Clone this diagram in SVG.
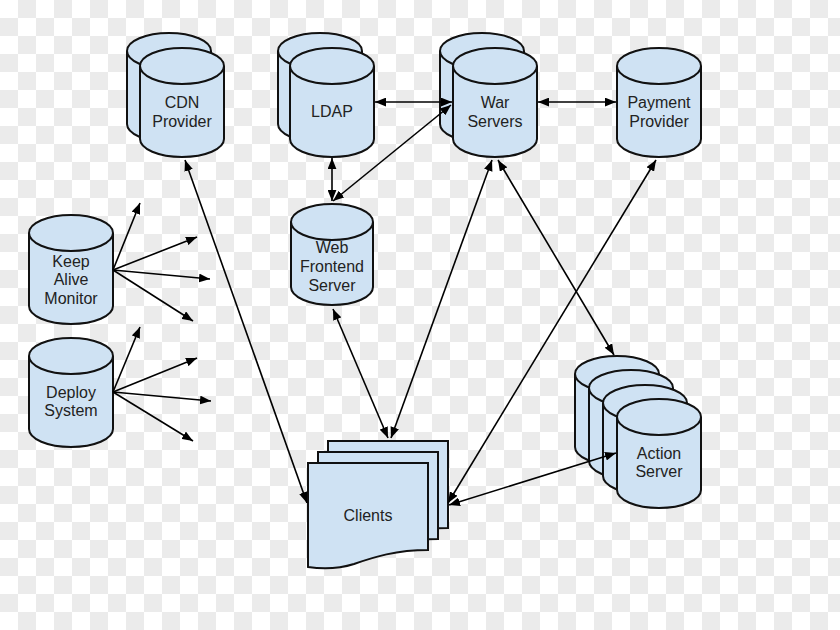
<svg xmlns="http://www.w3.org/2000/svg" xmlns:xlink="http://www.w3.org/1999/xlink" width="840" height="630" viewBox="0 0 840 630">
<style>
.cyl{fill:#cfe2f3;stroke:#111;stroke-width:2}
.cap{fill:none;stroke:#111;stroke-width:2}
.doc{fill:#cfe2f3;stroke:#111;stroke-width:2;stroke-linejoin:miter}
.lbl{font-family:"Liberation Sans",Arial,sans-serif;font-size:16px;fill:#222;text-anchor:middle}
.con{stroke:#000;stroke-width:1.6;fill:none;marker-end:url(#ah)}
.bi{marker-start:url(#ah)}
</style>
<defs>
<pattern id="chk" x="0" y="0" width="36" height="36" patternUnits="userSpaceOnUse">
<rect width="36" height="36" fill="#ffffff"/>
<rect x="18" y="0" width="18" height="18" fill="#ebebeb"/>
<rect x="0" y="18" width="18" height="18" fill="#ebebeb"/>
</pattern>
<marker id="ah" viewBox="0 0 10 8" refX="10" refY="4" markerWidth="11" markerHeight="9" markerUnits="userSpaceOnUse" orient="auto-start-reverse">
<path d="M0,0 L10,4 L0,8 Z" fill="#000"/>
</marker>
<g id="cy">
<path class="cyl" d="M0,18 A42,18 0 0 1 84,18 V91 A42,18 0 0 1 0,91 Z"/>
<path class="cap" d="M0,18 A42,18 0 0 0 84,18"/>
</g>
<path id="page" class="doc" d="M0,0 H120 V87 C88,87 66,94 46,101 C30,106 14,106 0,104 Z"/>
</defs>
<rect width="840" height="630" fill="url(#chk)"/>

<g id="cdn-provider">
<use xlink:href="#cy" x="127" y="33"/>
<use xlink:href="#cy" x="140" y="48"/>
<text class="lbl" x="182" y="108">CDN</text>
<text class="lbl" x="182" y="127">Provider</text>
</g>
<g id="ldap">
<use xlink:href="#cy" x="278" y="33"/>
<use xlink:href="#cy" x="290" y="48"/>
<text class="lbl" x="332" y="117">LDAP</text>
</g>
<g id="war-servers">
<use xlink:href="#cy" x="440" y="33"/>
<use xlink:href="#cy" x="453" y="48"/>
<text class="lbl" x="495" y="108">War</text>
<text class="lbl" x="495" y="127">Servers</text>
</g>
<g id="payment-provider">
<use xlink:href="#cy" x="617" y="48"/>
<text class="lbl" x="659" y="108">Payment</text>
<text class="lbl" x="659" y="127">Provider</text>
</g>
<g id="keep-alive-monitor">
<use xlink:href="#cy" x="29" y="215"/>
<text class="lbl" x="71" y="267">Keep</text>
<text class="lbl" x="71" y="285">Alive</text>
<text class="lbl" x="71" y="304">Monitor</text>
</g>
<g id="deploy-system">
<use xlink:href="#cy" x="29" y="338"/>
<text class="lbl" x="71" y="398">Deploy</text>
<text class="lbl" x="71" y="416">System</text>
</g>
<g id="web-frontend-server">
<path class="cyl" d="M291,222 A41,18 0 0 1 373,222 V287 A41,18 0 0 1 291,287 Z"/>
<path class="cap" d="M291,222 A41,18 0 0 0 373,222"/>
<text class="lbl" x="332" y="253">Web</text>
<text class="lbl" x="332" y="272">Frontend</text>
<text class="lbl" x="332" y="291">Server</text>
</g>
<g id="clients">
<use xlink:href="#page" x="328" y="441"/>
<use xlink:href="#page" x="318" y="452"/>
<use xlink:href="#page" x="308" y="463"/>
<text class="lbl" x="368" y="521">Clients</text>
</g>
<g id="action-server">
<use xlink:href="#cy" x="575" y="356"/>
<use xlink:href="#cy" x="589" y="370"/>
<use xlink:href="#cy" x="603" y="385"/>
<use xlink:href="#cy" x="617" y="399"/>
<text class="lbl" x="659" y="459">Action</text>
<text class="lbl" x="659" y="477">Server</text>
</g>

<g id="connectors">
<line class="con" x1="113" y1="270" x2="140" y2="203"/>
<line class="con" x1="113" y1="270" x2="197" y2="237"/>
<line class="con" x1="113" y1="270" x2="210" y2="279"/>
<line class="con" x1="113" y1="270" x2="193" y2="321"/>
<line class="con" x1="113" y1="392" x2="140" y2="327"/>
<line class="con" x1="113" y1="392" x2="197" y2="358"/>
<line class="con" x1="113" y1="392" x2="211" y2="401"/>
<line class="con" x1="113" y1="392" x2="193" y2="441"/>
<line class="con bi" x1="185" y1="160" x2="307" y2="503"/>
<line class="con bi" x1="375" y1="102" x2="452" y2="102"/>
<line class="con bi" x1="538" y1="102" x2="616" y2="102"/>
<line class="con bi" x1="332" y1="158" x2="332" y2="201"/>
<line class="con bi" x1="451" y1="105" x2="333" y2="201"/>
<line class="con bi" x1="333" y1="309" x2="388" y2="438"/>
<line class="con bi" x1="492" y1="160" x2="391" y2="438"/>
<line class="con bi" x1="498" y1="160" x2="614" y2="355"/>
<line class="con bi" x1="656" y1="160" x2="448" y2="503"/>
<line class="con bi" x1="616" y1="453" x2="449" y2="505"/>
</g>
</svg>
